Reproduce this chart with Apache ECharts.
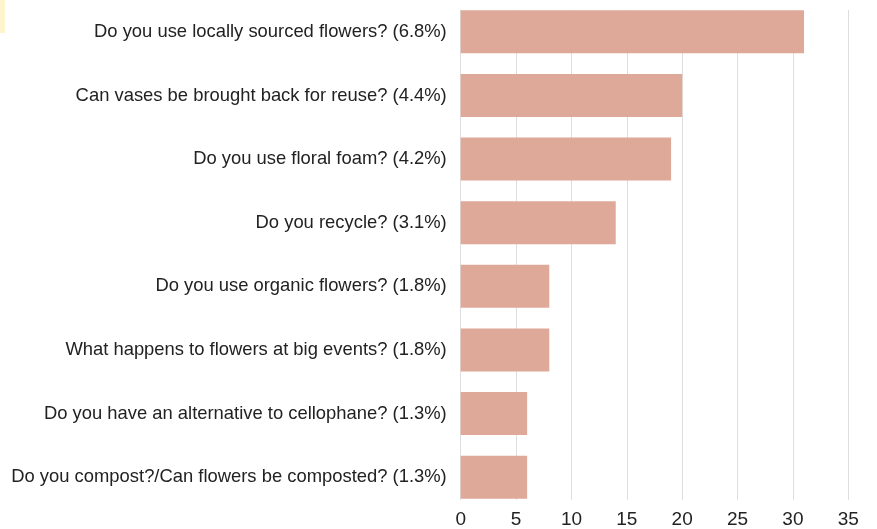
<!DOCTYPE html>
<html>
<head>
<meta charset="utf-8">
<script src="https://cdn.jsdelivr.net/npm/echarts@6/dist/echarts.min.js"></script>
<style>
  html, body { margin: 0; padding: 0; background: #ffffff; }
  #chart { width: 877px; height: 529px; }
</style>
</head>
<body>
<div id="chart"></div>
<script>
// Questions asked, top to bottom, with share of all questions
const questions = [
  'Do you use locally sourced flowers? (6.8%)',
  'Can vases be brought back for reuse? (4.4%)',
  'Do you use floral foam? (4.2%)',
  'Do you recycle? (3.1%)',
  'Do you use organic flowers? (1.8%)',
  'What happens to flowers at big events? (1.8%)',
  'Do you have an alternative to cellophane? (1.3%)',
  'Do you compost?/Can flowers be composted? (1.3%)'
];
// Number of times each question was asked
const counts = [31, 20, 19, 14, 8, 8, 6, 6];
// Value axis ticks
const axisMin = 0;
const axisMax = 35;
const axisStep = 5;

const chart = echarts.init(document.getElementById('chart'), null, { renderer: 'canvas' });

const font = 'Liberation Sans, Arial, sans-serif';

chart.setOption({
  animation: false,
  backgroundColor: '#ffffff',
  graphic: [{
    type: 'rect',
    shape: { x: 0, y: 0, width: 5, height: 33 },
    style: { fill: '#fdf3cc' },
    silent: true
  }],
  grid: [
    // bars
    { left: 460.7, right: 28.7, top: 0, bottom: 20, containLabel: false },
    // value axis with gridlines
    { left: 460.7, right: 28.7, top: 10, bottom: 29, containLabel: false }
  ],
  xAxis: [
    {
      gridIndex: 0, type: 'value', min: axisMin, max: axisMax, interval: axisStep,
      axisLine: { show: false }, axisTick: { show: false },
      axisLabel: { show: false }, splitLine: { show: false }
    },
    {
      gridIndex: 1, type: 'value', min: axisMin, max: axisMax, interval: axisStep,
      axisLine: { show: false }, axisTick: { show: false },
      axisLabel: { color: '#222222', fontSize: 19, fontFamily: font, margin: 10 },
      splitLine: { show: true, lineStyle: { color: '#dedede', width: 1 } }
    }
  ],
  yAxis: [
    {
      gridIndex: 0, type: 'category', data: questions, inverse: true,
      axisLine: { show: false }, axisTick: { show: false },
      axisLabel: { color: '#222222', fontSize: 18.4, fontFamily: font, margin: 14 }
    },
    {
      gridIndex: 1, type: 'value', min: 0, max: 1, show: false
    }
  ],
  series: [
    {
      type: 'bar',
      xAxisIndex: 0,
      yAxisIndex: 0,
      data: counts,
      barWidth: 43,
      z: 3,
      itemStyle: { color: '#dfa999' }
    }
  ]
});
</script>
</body>
</html>
